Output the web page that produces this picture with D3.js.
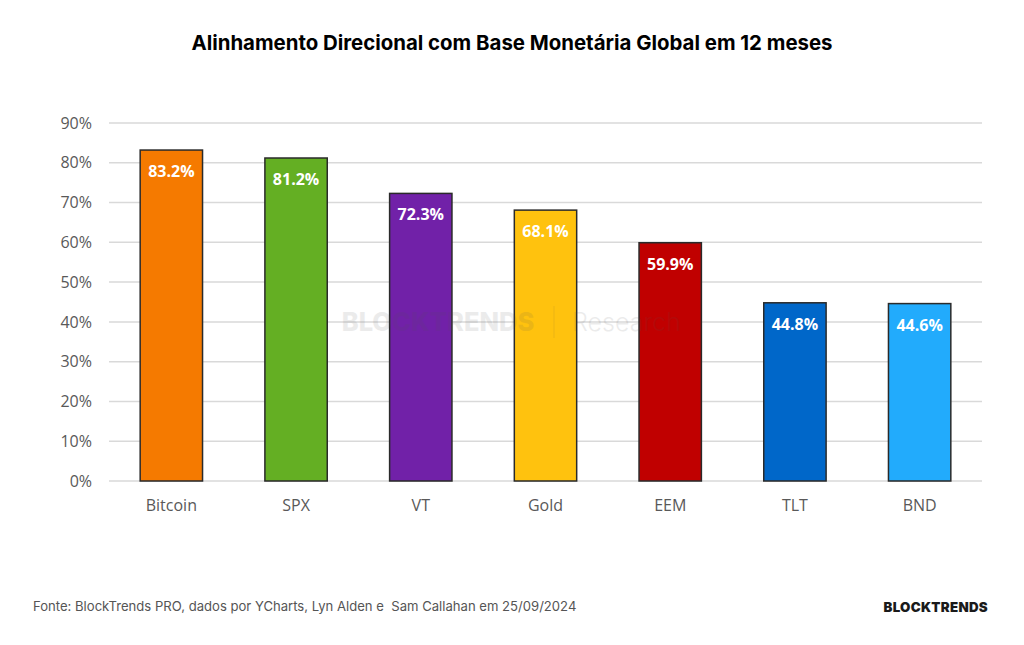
<!DOCTYPE html>
<html>
<head>
<meta charset="utf-8">
<script src="https://cdn.jsdelivr.net/npm/d3@7"></script>
<style>
  html, body { margin: 0; padding: 0; background: #ffffff; }
  svg { display: block; }
  text { white-space: pre; }
</style>
</head>
<body>
<svg id="chart" width="1024" height="645"></svg>
<script>
const categories = ["Bitcoin", "SPX", "VT", "Gold", "EEM", "TLT", "BND"];
const values = [83.2, 81.2, 72.3, 68.1, 59.9, 44.8, 44.6];
const colors = ["#F57A00", "#64AF23", "#7121A8", "#FFC20E", "#C00000", "#0067C9", "#22ABFC"];
const yTicks = [0, 10, 20, 30, 40, 50, 60, 70, 80, 90];
const titleText = "Alinhamento Direcional com Base Monetária Global em 12 meses";
const sourceText = "Fonte: BlockTrends PRO, dados por YCharts, Lyn Alden e  Sam Callahan em 25/09/2024";

(function () {
const svg = d3.select("#chart");
const W = 1024, H = 645;
svg.append("rect").attr("width", W).attr("height", H).attr("fill", "#fff");

const pLeft = 109, pRight = 982, pTop = 123, pBottom = 481;

const x = d3.scaleBand().domain(categories).range([pLeft, pRight]).paddingInner(0.5).paddingOuter(0.25);
const y = d3.scaleLinear().domain([0, 90]).range([pBottom, pTop]);

// gridlines
svg.append("g").selectAll("line").data(yTicks).join("line")
  .attr("x1", pLeft).attr("x2", pRight)
  .attr("y1", d => y(d)).attr("y2", d => y(d))
  .attr("stroke", "#d9d9d9").attr("stroke-width", 1.5);

// y axis labels
const yAxis = d3.axisLeft(y).tickValues(yTicks).tickFormat(d => d + "%").tickSize(0).tickPadding(0);
const ya = svg.append("g").attr("transform", `translate(${pLeft - 17},0)`).call(yAxis);
ya.select(".domain").remove();
ya.selectAll("text").attr("font-family", "Open Sans, sans-serif").attr("font-size", 16).attr("fill", "#595959");

// x axis labels
const xAxis = d3.axisBottom(x).tickSize(0).tickPadding(0);
const xa = svg.append("g").attr("transform", `translate(0,${pBottom + 19})`).call(xAxis);
xa.select(".domain").remove();
xa.selectAll("text").attr("font-family", "Open Sans, sans-serif").attr("font-size", 16).attr("fill", "#595959");

// bars
const data = categories.map((c, i) => ({ c, v: values[i], col: colors[i] }));
svg.append("g").selectAll("rect").data(data).join("rect")
  .attr("x", d => x(d.c)).attr("width", x.bandwidth())
  .attr("y", d => y(d.v)).attr("height", d => y(0) - y(d.v))
  .attr("fill", d => d.col).attr("stroke", "#2a2a2a").attr("stroke-width", 1.5);

// value labels
svg.append("g").selectAll("text").data(data).join("text")
  .attr("x", d => x(d.c) + x.bandwidth() / 2)
  .attr("y", d => y(d.v) + 27)
  .attr("text-anchor", "middle")
  .attr("font-family", "Open Sans, sans-serif").attr("font-weight", 700).attr("font-size", 16)
  .attr("fill", "#ffffff")
  .text(d => d.v.toFixed(1) + "%");

// watermark
const wm = svg.append("g").attr("opacity", 0.11);
wm.append("text").attr("x", 438).attr("y", 331).attr("text-anchor", "middle")
  .attr("font-family", "Inter, sans-serif").attr("font-weight", 800).attr("font-size", 25.5)
  .attr("fill", "#555").text("BLOCKTRENDS");
wm.append("line").attr("x1", 554).attr("x2", 554).attr("y1", 306).attr("y2", 338)
  .attr("stroke", "#555").attr("stroke-width", 1);
wm.append("text").attr("x", 572).attr("y", 331)
  .attr("font-family", "Inter, sans-serif").attr("font-weight", 300).attr("font-size", 25)
  .attr("fill", "#555").text("Research");

// title
svg.append("text").attr("x", 512).attr("y", 50).attr("text-anchor", "middle")
  .attr("font-family", "Inter, sans-serif").attr("font-weight", 700).attr("font-size", 20.4)
  .attr("fill", "#000").text(titleText);

// source
svg.append("text").attr("x", 33).attr("y", 611)
  .attr("font-family", "Inter, sans-serif").attr("font-size", 13.1)
  .attr("fill", "#555").text(sourceText);

// logo
svg.append("text").attr("x", 988).attr("y", 612).attr("text-anchor", "end")
  .attr("font-family", "Inter, sans-serif").attr("font-weight", 900).attr("font-size", 13.3)
  .attr("letter-spacing", 0.3)
  .attr("fill", "#1a1a1a").text("BLOCKTRENDS");
})();
</script>
</body>
</html>
